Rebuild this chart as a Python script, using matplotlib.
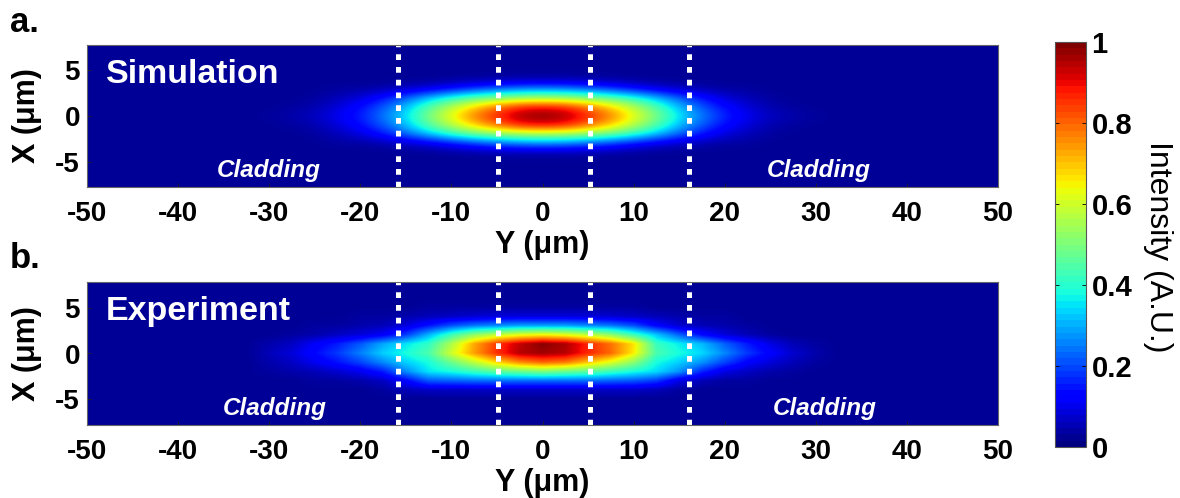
import numpy as np
import matplotlib
matplotlib.use('Agg')
import matplotlib.pyplot as plt
from matplotlib.cm import ScalarMappable
from matplotlib.colors import Normalize

plt.rcParams['font.family'] = ['Liberation Sans', 'DejaVu Sans']
plt.rcParams['axes.unicode_minus'] = False

W, H = 1180, 498

# intensity, rows X = -5..5 um, columns Y = -30..30 um every 2.5 um
sim_rows = [
    [.02,.02,.02,.02,.02,.02,.02,.02,.02,.02,.02,.02,.02,.02,.02,.02,.02,.02,.02,.02,.02,.02,.02,.02,.02],
    [.02,.02,.02,.02,.02,.02,.02,.02,.025,.03,.035,.04,.04,.04,.035,.03,.025,.02,.02,.02,.02,.02,.02,.02,.02],
    [.02,.02,.02,.03,.03,.04,.06,.09,.13,.18,.22,.25,.26,.25,.22,.18,.13,.09,.06,.04,.03,.03,.02,.02,.02],
    [.02,.02,.03,.05,.08,.14,.22,.31,.40,.46,.50,.53,.54,.53,.50,.46,.40,.31,.22,.14,.08,.05,.03,.02,.02],
    [.02,.03,.04,.08,.13,.21,.31,.45,.57,.69,.79,.88,.90,.88,.79,.69,.57,.45,.31,.21,.13,.08,.04,.03,.02],
    [.03,.04,.06,.10,.15,.24,.35,.50,.64,.78,.88,.97,1.0,.97,.88,.78,.64,.50,.36,.25,.16,.10,.06,.04,.03],
    [.02,.03,.04,.08,.13,.21,.31,.45,.57,.69,.79,.88,.90,.88,.79,.69,.57,.45,.31,.21,.13,.08,.04,.03,.02],
    [.02,.02,.03,.05,.08,.14,.22,.31,.40,.46,.50,.53,.54,.53,.50,.46,.40,.31,.22,.14,.08,.05,.03,.02,.02],
    [.02,.02,.02,.03,.03,.04,.06,.09,.13,.18,.22,.25,.26,.25,.22,.18,.13,.09,.06,.04,.03,.03,.02,.02,.02],
    [.02,.02,.02,.02,.02,.02,.02,.02,.025,.03,.035,.04,.04,.04,.035,.03,.025,.02,.02,.02,.02,.02,.02,.02,.02],
    [.02,.02,.02,.02,.02,.02,.02,.02,.02,.02,.02,.02,.02,.02,.02,.02,.02,.02,.02,.02,.02,.02,.02,.02,.02],
]
exp_rows = [
    [.02,.02,.02,.02,.02,.02,.02,.02,.02,.02,.02,.02,.02,.02,.02,.02,.02,.02,.02,.02,.02,.02,.02,.02,.02],
    [.02,.02,.02,.02,.02,.03,.05,.06,.06,.06,.06,.06,.06,.06,.06,.06,.06,.05,.03,.02,.02,.02,.02,.02,.02],
    [.02,.02,.03,.03,.04,.06,.12,.21,.22,.23,.23,.23,.23,.23,.23,.22,.21,.18,.09,.05,.03,.03,.02,.02,.02],
    [.03,.04,.05,.07,.10,.15,.26,.35,.38,.42,.46,.48,.50,.48,.46,.42,.38,.34,.27,.16,.09,.06,.04,.03,.02],
    [.04,.06,.10,.14,.19,.26,.33,.38,.48,.58,.68,.76,.80,.78,.70,.62,.52,.38,.33,.27,.19,.12,.08,.05,.03],
    [.05,.08,.13,.18,.25,.33,.38,.44,.60,.74,.86,.95,.97,.95,.87,.80,.66,.44,.38,.34,.26,.18,.12,.07,.04],
    [.04,.06,.11,.15,.21,.29,.35,.41,.56,.73,.85,.94,.99,.96,.87,.79,.67,.42,.36,.31,.22,.15,.09,.05,.03],
    [.02,.03,.04,.06,.08,.11,.18,.30,.42,.52,.58,.62,.64,.62,.58,.52,.42,.32,.22,.13,.08,.05,.03,.02,.02],
    [.02,.02,.03,.03,.04,.05,.08,.14,.20,.24,.26,.28,.28,.28,.26,.24,.20,.12,.07,.05,.04,.03,.02,.02,.02],
    [.02,.02,.02,.02,.03,.03,.04,.05,.06,.07,.08,.08,.08,.08,.08,.07,.06,.05,.04,.03,.03,.02,.02,.02,.02],
    [.02,.02,.02,.02,.02,.02,.02,.03,.03,.03,.03,.03,.03,.03,.03,.03,.03,.02,.02,.02,.02,.02,.02,.02,.02],
]
background = 0.02

core_edges = [-15.9, -4.9, 5.2, 16.1]
y_ticks = [-50, -40, -30, -20, -10, 0, 10, 20, 30, 40, 50]
x_ticks = [-5, 0, 5]
cbar_ticks = [0, 0.2, 0.4, 0.6, 0.8, 1]
cbar_labels = ['0', '0.2', '0.4', '0.6', '0.8', '1']


def px_axes(fig, left, top, right, bottom):
    return fig.add_axes([left / W, 1 - bottom / H, (right - left) / W, (bottom - top) / H])


def draw_panel(fig, box, rows, title, clad_left, clad_right, interp):
    ax = px_axes(fig, *box)
    # pad out to the full window with the background level
    img = np.pad(np.array(rows), ((3, 3), (8, 8)), constant_values=background)
    ax.imshow(img, extent=[-51.25, 51.25, -8.5, 8.5], origin='lower', aspect='auto',
              cmap='jet', vmin=0, vmax=1, interpolation=interp)
    ax.set_xlim(-50, 50)
    ax.set_ylim(-7.8, 7.8)
    for y in core_edges:
        ax.plot([y, y], [-7.8, 7.8], color='white', lw=3.6, ls=(0, (1.15, 1.4)),
                dash_capstyle='butt', clip_on=False)
    ax.set_xticks(y_ticks)
    ax.set_yticks(x_ticks)
    ax.tick_params(direction='in', length=3, width=0.6, labelsize=20, color='#222222')
    ax.tick_params(axis='x', pad=10)
    ax.tick_params(axis='y', pad=5)
    for lab in ax.get_xticklabels() + ax.get_yticklabels():
        lab.set_fontweight('bold')
    for s in ax.spines.values():
        s.set_linewidth(0.8)
        s.set_color('#666666')
    ax.set_xlabel('Y (μm)', fontsize=22, fontweight='bold', labelpad=2)
    ax.set_ylabel('X (μm)', fontsize=22, fontweight='bold')
    ax.yaxis.set_label_coords(-0.049, 0.5)
    ax.text(-47.9, 4.6, title, color='white', fontsize=24.5, fontweight='bold', va='center')
    ax.text(clad_left, -6, 'Cladding', color='white', fontsize=17.5, fontweight='bold',
            style='italic', ha='center', va='center')
    ax.text(clad_right, -6, 'Cladding', color='white', fontsize=17.5, fontweight='bold',
            style='italic', ha='center', va='center')
    return ax


fig = plt.figure(figsize=(W / 100, H / 100), dpi=100)

draw_panel(fig, (87, 45, 998, 187), sim_rows, 'Simulation', -30, 30.3, 'bicubic')
draw_panel(fig, (87, 282, 998, 425), exp_rows, 'Experiment', -29.4, 31, 'bilinear')

fig.text(10 / W, 1 - 22 / H, 'a.', fontsize=25, fontweight='bold', va='center')
fig.text(10 / W, 1 - 258 / H, 'b.', fontsize=25, fontweight='bold', va='center')

cax = px_axes(fig, 1055, 42, 1086, 447)
sm = ScalarMappable(norm=Normalize(0, 1), cmap=plt.get_cmap('jet', 64))
cb = fig.colorbar(sm, cax=cax)
cb.set_ticks(cbar_ticks)
cb.set_ticklabels(cbar_labels)
cax.tick_params(direction='in', length=3, width=0.6, labelsize=21, pad=4, left=True, right=True)
for lab in cax.get_yticklabels():
    lab.set_fontweight('bold')
cb.outline.set_linewidth(0.8)
cb.outline.set_edgecolor('#555555')
fig.text(1158 / W, 1 - 247 / H, 'Intensity (A.U.)', fontsize=23, rotation=270,
         ha='center', va='center')

plt.savefig('out.png', dpi=100)
plt.close()
